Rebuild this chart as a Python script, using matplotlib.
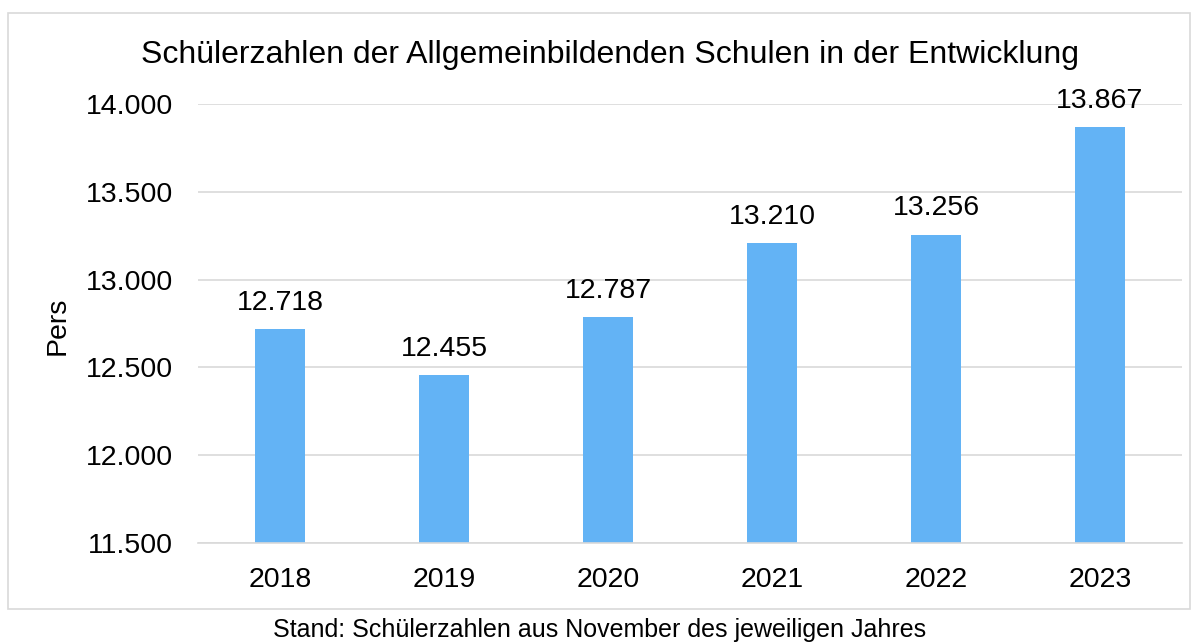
import matplotlib.pyplot as plt
from matplotlib.patches import Rectangle
from matplotlib.ticker import FuncFormatter

# Schülerzahlen je Jahr (Stand November)
years = ['2018', '2019', '2020', '2021', '2022', '2023']
students = [12718, 12455, 12787, 13210, 13256, 13867]
y_ticks = [11500, 12000, 12500, 13000, 13500, 14000]

plt.rcParams['font.family'] = ['Liberation Sans', 'DejaVu Sans']

W, H = 1198, 642
fig = plt.figure(figsize=(W / 100, H / 100), dpi=100)

def px(x0, y0, x1, y1):
    return [x0 / W, 1 - y1 / H, (x1 - x0) / W, (y1 - y0) / H]

def de_fmt(v, pos=None):
    return f'{int(round(v)):,}'.replace(',', '.')

# chart frame
fig.patches.append(Rectangle((8 / W, 1 - 609 / H), 1182 / W, 596 / H,
                             transform=fig.transFigure, fill=False,
                             edgecolor='#d9d9d9', linewidth=1.2))

ax = fig.add_axes(px(198, 104, 1182, 543))
x = range(len(years))
bars = ax.bar(x, students, width=0.31, color='#63b3f5', zorder=2)
ax.set_xlim(-0.5, len(years) - 0.5)
ax.set_ylim(11500, 14000)
ax.set_yticks(y_ticks)
ax.yaxis.set_major_formatter(FuncFormatter(de_fmt))
ax.set_xticks(list(x))
ax.set_xticklabels(years)
ax.grid(axis='y', color='#d9d9d9', linewidth=1.2, zorder=0)
for s in ax.spines.values():
    s.set_visible(False)
ax.spines['bottom'].set_visible(True)
ax.spines['bottom'].set_color('#d9d9d9')
ax.spines['bottom'].set_linewidth(1.2)
ax.tick_params(length=0, labelsize=20.5, colors='black')
ax.tick_params(axis='y', pad=18)
ax.tick_params(axis='x', pad=17)

for b, v in zip(bars, students):
    ax.annotate(de_fmt(v), (b.get_x() + b.get_width() / 2, b.get_height()),
                xytext=(0, 9.5), textcoords='offset points',
                ha='center', va='bottom', fontsize=20.5, clip_on=False)

fig.text(57.5 / W, 1 - 326 / H, 'Pers', rotation=90,
         ha='center', va='center', fontsize=20.5)
fig.text(610 / W, 1 - 55 / H,
         'Schülerzahlen der Allgemeinbildenden Schulen in der Entwicklung',
         ha='center', va='center', fontsize=23)
fig.text(600 / W, 1 - 630 / H,
         'Stand: Schülerzahlen aus November des jeweiligen Jahres',
         ha='center', va='center', fontsize=18)

fig.savefig('out.png', dpi=100)
